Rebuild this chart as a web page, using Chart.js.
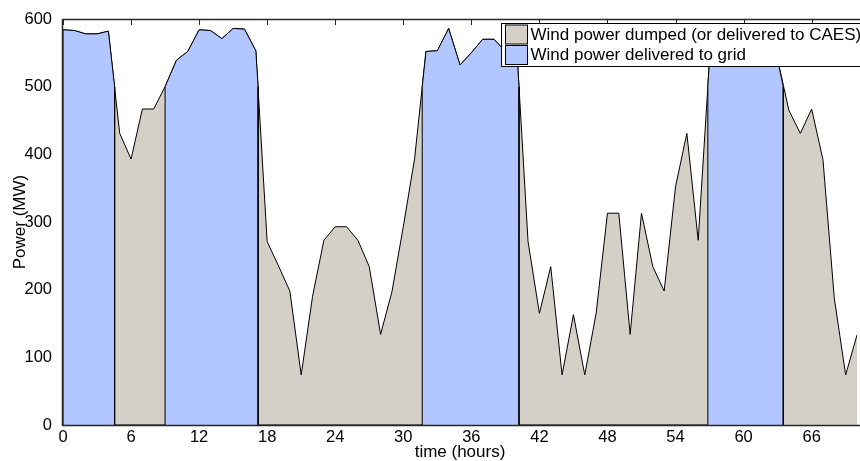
<!DOCTYPE html>
<html>
<head>
<meta charset="utf-8">
<script src="https://cdn.jsdelivr.net/npm/chart.js@4.4.1/dist/chart.umd.min.js"></script>
<style>
  html, body { margin: 0; padding: 0; background: #fff; overflow: hidden; }
  #wrap { width: 860px; height: 461px; }
</style>
</head>
<body>
<div id="wrap"><canvas id="powerChart" width="860" height="461"></canvas></div>
<script>
// hourly wind power (MW)
const hours = [0, 1, 2, 3, 4, 5, 6, 7, 8, 9, 10, 11, 12, 13, 14, 15, 16, 17, 18, 19,
  20, 21, 22, 23, 24, 25, 26, 27, 28, 29, 30, 31, 32, 33, 34, 35, 36, 37, 38, 39,
  40, 41, 42, 43, 44, 45, 46, 47, 48, 49, 50, 51, 52, 53, 54, 55, 56, 57, 58, 59,
  60, 61, 62, 63, 64, 65, 66, 67, 68, 69, 70];
const windPower = [584, 583, 578, 578, 582, 431, 393, 467, 467, 500,
  539, 552, 584, 583, 571, 586, 585, 553, 271, 235,
  198, 74, 190, 273, 293, 293, 273, 234, 134, 197,
  293, 394, 552, 553, 586, 532, 550, 570, 570, 552,
  558, 271, 165, 234, 74, 163, 74, 165, 313, 313,
  134, 313, 234, 198, 352, 431, 273, 540, 575, 580,
  585, 575, 580, 540, 465, 431, 467, 392, 187, 74, 133];

// periods when the power goes to the grid (hours) and the level at their edges (MW)
const gridStart = [0, 9, 31.67, 56.85];
const gridEnd = [4.55, 17.2, 40.2, 63.5];
const edgeLevel = 500;

const xTicks = [0, 6, 12, 18, 24, 30, 36, 42, 48, 54, 60, 66];
const yTicks = [0, 100, 200, 300, 400, 500, 600];

const GRAY = "rgb(212,208,200)";
const BLUE = "rgb(178,198,255)";
const FONT = "'Liberation Sans', Arial, sans-serif";

const dumpedPoints = hours.map((h, i) => ({ x: h, y: windPower[i] }));

const gridPoints = [];
gridStart.forEach((a, k) => {
  const b = gridEnd[k];
  gridPoints.push({ x: a, y: 0 });
  if (a > 0) gridPoints.push({ x: a, y: edgeLevel });
  hours.forEach((h, i) => {
    if (h >= a && h <= b) gridPoints.push({ x: h, y: windPower[i] });
  });
  gridPoints.push({ x: b, y: edgeLevel });
  gridPoints.push({ x: b, y: 0 });
});

// matlab style box: inward ticks under the data, frame lines on top
const axesBox = {
  id: "axesBox",
  beforeDatasetsDraw(chart) {
    const { ctx, chartArea: a, scales } = chart;
    ctx.save();
    ctx.strokeStyle = "#262626";
    ctx.lineWidth = 1;
    ctx.beginPath();
    xTicks.forEach(v => {
      const x = Math.round(scales.x.getPixelForValue(v)) + 0.5;
      ctx.moveTo(x, a.top); ctx.lineTo(x, a.top + 6);
      ctx.moveTo(x, a.bottom); ctx.lineTo(x, a.bottom - 6);
    });
    yTicks.forEach(v => {
      const y = Math.round(scales.y.getPixelForValue(v)) + 0.5;
      ctx.moveTo(a.left, y); ctx.lineTo(a.left + 6, y);
    });
    ctx.stroke();
    ctx.restore();
  },
  afterDatasetsDraw(chart) {
    const { ctx, chartArea: a } = chart;
    ctx.save();
    ctx.strokeStyle = "#262626";
    ctx.lineWidth = 1.5;
    ctx.beginPath();
    ctx.moveTo(a.left - 0.5, a.top + 0.5);
    ctx.lineTo(860, a.top + 0.5);
    ctx.moveTo(a.left - 0.5, a.top);
    ctx.lineTo(a.left - 0.5, a.bottom + 0.5);
    ctx.lineTo(860, a.bottom + 0.5);
    ctx.stroke();
    ctx.restore();
  }
};

// legend box in the upper right corner of the axes
const boxLegend = {
  id: "boxLegend",
  afterDraw(chart) {
    const { ctx } = chart;
    const items = chart.data.datasets;
    const left = 501.5, top = 23.5, bottom = 66.5, rowH = 20.5;
    ctx.save();
    ctx.fillStyle = "#fff";
    ctx.fillRect(left, top, 400, bottom - top);
    ctx.strokeStyle = "#000";
    ctx.lineWidth = 1;
    ctx.strokeRect(left, top, 400, bottom - top);
    ctx.font = "17px " + FONT;
    ctx.textBaseline = "middle";
    items.forEach((ds, i) => {
      const y0 = top + 1.5 + i * rowH;
      ctx.fillStyle = ds.backgroundColor;
      ctx.fillRect(505.5, y0, 22, 19);
      ctx.strokeStyle = "#000";
      ctx.strokeRect(505.5, y0, 22, 19);
      ctx.fillStyle = "#000";
      ctx.fillText(ds.label, 530.5, y0 + 10);
    });
    ctx.restore();
  }
};

new Chart(document.getElementById("powerChart"), {
  type: "line",
  data: {
    datasets: [
      {
        label: "Wind power dumped (or delivered to CAES)",
        data: dumpedPoints,
        backgroundColor: GRAY,
        borderColor: "#000",
        borderWidth: 1,
        fill: "origin",
        pointRadius: 0,
        tension: 0,
        order: 2
      },
      {
        label: "Wind power delivered to grid",
        data: gridPoints,
        backgroundColor: BLUE,
        borderColor: "#000",
        borderWidth: 1,
        fill: "origin",
        pointRadius: 0,
        tension: 0,
        order: 1
      }
    ]
  },
  options: {
    responsive: false,
    animation: false,
    layout: { padding: { top: 19, right: 3, left: 0, bottom: 0 } },
    plugins: { legend: { display: false }, tooltip: { enabled: false } },
    scales: {
      x: {
        type: "linear",
        min: 0,
        max: 70,
        afterBuildTicks: s => { s.ticks = xTicks.map(v => ({ value: v })); },
        afterFit: s => { s.height = 36; },
        grid: { display: false },
        border: { display: false },
        ticks: { color: "#000", font: { family: FONT, size: 16.5, lineHeight: 1 }, padding: -4, maxRotation: 0 },
        title: { display: true, text: "time (hours)", color: "#000",
          font: { family: FONT, size: 17, lineHeight: 1 }, padding: 0 }
      },
      y: {
        min: 0,
        max: 600,
        afterBuildTicks: s => { s.ticks = yTicks.map(v => ({ value: v })); },
        afterFit: s => { s.width = 63; },
        grid: { display: false },
        border: { display: false },
        ticks: { color: "#000", font: { family: FONT, size: 16.5 }, padding: 3 },
        title: { display: true, text: "Power (MW)", color: "#000",
          font: { family: FONT, size: 17, lineHeight: 1 }, padding: { top: 12, bottom: 0 } }
      }
    }
  },
  plugins: [axesBox, boxLegend]
});
</script>
</body>
</html>
